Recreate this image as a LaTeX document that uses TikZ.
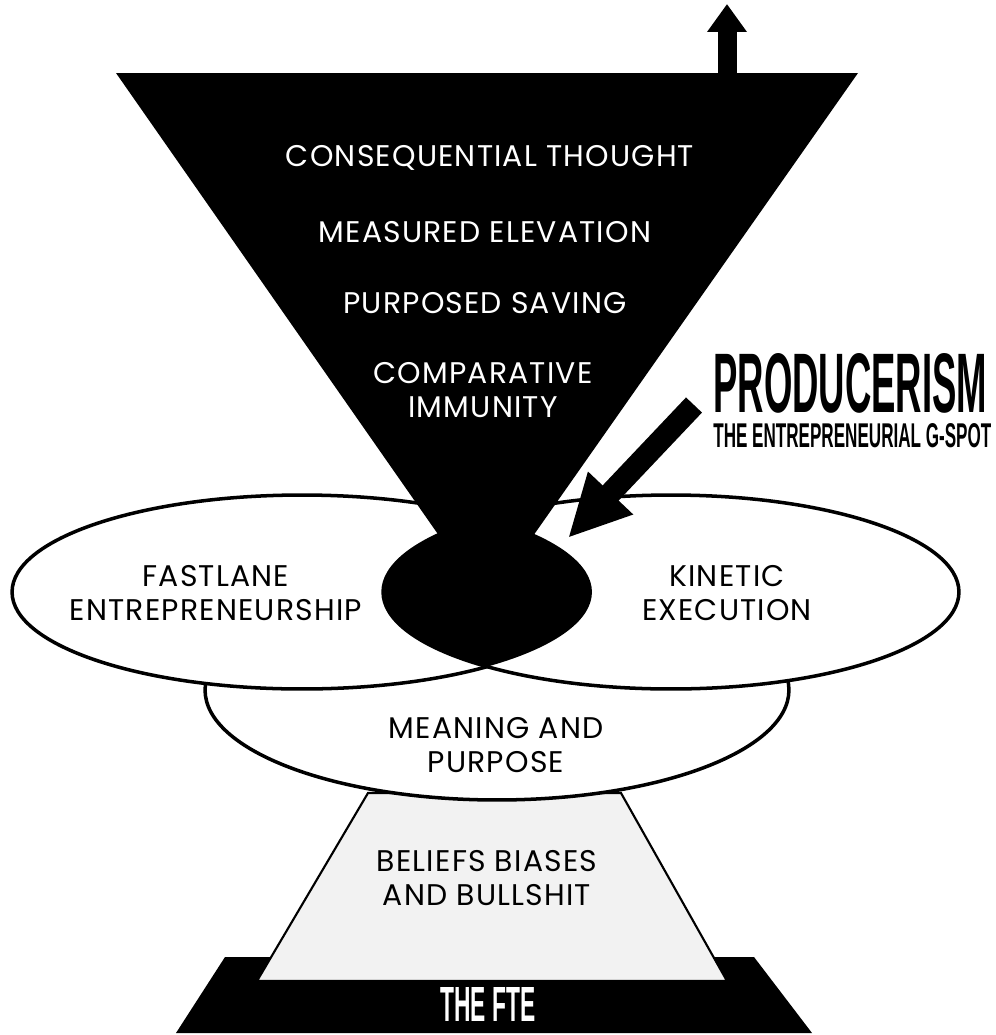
\documentclass[tikz,border=0pt]{standalone}
\usepackage{fontspec}
\usepackage{graphicx}
\setmainfont{Poppins}[LetterSpace=4]
\newfontfamily\narrowfont{Liberation Sans}
\usetikzlibrary{arrows.meta}

\begin{document}
\begin{tikzpicture}[x=0.02cm, y=-0.02cm,
    caption/.style={align=center, inner sep=0pt,
      font=\fontsize{17}{19.5}\selectfont},
    bubble/.style={draw=black, line width=2pt, fill=white},
    riser/.style={line width=0.38cm,
      -{Triangle[length=0.56cm, width=0.76cm]}},
    pointer/.style={line width=0.44cm,
      -{Triangle[length=1.24cm, width=1.15cm]}}]

  %Frame
  \useasboundingbox (0,0) rectangle (995,1035);

  %The FTE base
  \fill [black] (225,957) -- (754,957) -- (812,1033) -- (176,1033) -- cycle;

  %Beliefs trapezoid
  \filldraw [fill=gray!10, draw=black, line width=1.2pt]
    (368,793) -- (621,793) -- (727,981) -- (257,981) -- cycle;

  %Meaning and purpose
  \filldraw [bubble] (497,690) ellipse [x radius=5.84cm, y radius=2.2cm];

  %Fastlane and kinetic
  \filldraw [bubble] (302,592) ellipse [x radius=5.8cm, y radius=1.94cm];
  \filldraw [bubble] (671,592) ellipse [x radius=5.76cm, y radius=1.94cm];

  %Overlap of the two
  \begin{scope}
    \clip (302,592) ellipse [x radius=5.8cm, y radius=1.94cm];
    \fill [black] (671,592) ellipse [x radius=5.76cm, y radius=1.94cm];
  \end{scope}

  %Funnel
  \fill [black] (116,73) -- (858,73) -- (486,603) -- cycle;

  %Rising arrow
  \coordinate (risebase) at (727,74);
  \coordinate (risetop)  at (727,4);
  \draw [riser] (risebase) -- (risetop);

  %Funnel texts
  \node [caption, text=white] (thought)   at (490,158) {CONSEQUENTIAL THOUGHT};
  \node [caption, text=white] (elevation) at (485,232) {MEASURED ELEVATION};
  \node [caption, text=white] (saving)    at (485,303) {PURPOSED SAVING};
  \node [caption, text=white] (immunity)  at (483,390) {COMPARATIVE\\IMMUNITY};

  %Bubble texts
  \node [caption] (fastlane) at (216,593) {FASTLANE\\ENTREPRENEURSHIP};
  \node [caption] (kinetic)  at (727,593) {KINETIC\\EXECUTION};
  \node [caption] (meaning)  at (496,745) {MEANING AND\\PURPOSE};
  \node [caption] (beliefs)  at (487,878) {BELIEFS BIASES\\AND BULLSHIT};

  %Base text
  \node [inner sep=0pt, text=white] (fte) at (488,1004) {
    \resizebox{1.9cm}{0.68cm}{\narrowfont\bfseries THE FTE}};

  %Producerism
  \node [anchor=north west, inner sep=0pt] (producerism) at (713,353) {
    \resizebox{5.48cm}{1.18cm}{\narrowfont\bfseries PRODUCERISM}};
  \node [anchor=north west, inner sep=0pt] (gspot) at (713,423) {
    \resizebox{5.56cm}{0.48cm}{\narrowfont\bfseries THE ENTREPRENEURIAL G-SPOT}};

  %Pointer to the sweet spot
  \coordinate (pointtail) at (694,405);
  \coordinate (pointtip)  at (568,538);
  \draw [pointer] (pointtail) -- (pointtip);

\end{tikzpicture}
\end{document}
